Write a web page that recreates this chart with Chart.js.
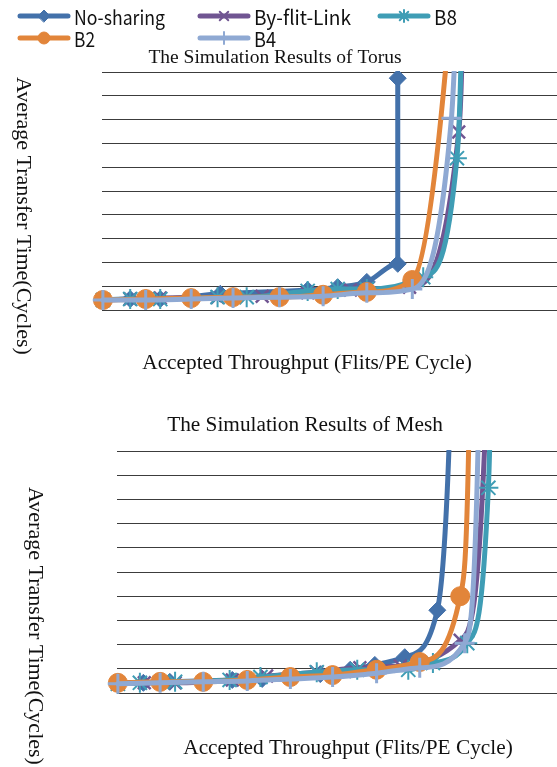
<!DOCTYPE html>
<html>
<head>
<meta charset="utf-8">
<script src="https://cdn.jsdelivr.net/npm/chart.js"></script>
<style>
  body { margin: 0; background: #fff; }
  canvas { display: block; }
</style>
</head>
<body>
<canvas id="torusChart" width="557" height="380"></canvas>
<canvas id="meshChart" width="557" height="387"></canvas>
<script>
// series, in drawing order (the last one ends up on top)
const seriesNames = ["No-sharing", "By-flit-Link", "B8", "B2", "B4"];
const seriesColors = ["#4371AA", "#705592", "#3F9DB5", "#E2853A", "#8FA9D3"];
const pointStyles = ["rectRot", "crossRot", "star", "circle", "cross"];
const pointRadii = [8.5, 9, 10, 9.5, 10];
const pointBorders = [1, 2.5, 2, 1, 3];

// y grid: average transfer time (cycles), x: accepted throughput
const yTicks = [0, 50, 100, 150, 200, 250, 300, 350, 400, 450, 500];
const xRange = [0, 0.5];

// --- Torus ---
const torusNoSharingX = [0.001, 0.031, 0.064, 0.130, 0.226, 0.259, 0.291, 0.325, 0.325];
const torusNoSharingY = [21, 23, 23, 34, 42, 48, 59, 97, 487];
const torusFlitLinkX = [0.001, 0.031, 0.064, 0.127, 0.176, 0.226, 0.273, 0.338, 0.392, 0.396, 0.401];
const torusFlitLinkY = [21, 23, 25, 27, 29, 36, 42, 48, 374, 567, 1281];
const torusB8X = [0.001, 0.031, 0.064, 0.127, 0.159, 0.226, 0.259, 0.291, 0.353, 0.390, 0.395, 0.400];
const torusB8Y = [21, 23, 23, 27, 27, 40, 44, 44, 69, 319, 567, 1281];
const torusB2X = [0.001, 0.048, 0.098, 0.144, 0.195, 0.243, 0.291, 0.341, 0.379, 0.390];
const torusB2Y = [21, 23, 25, 27, 27, 32, 38, 63, 536, 872];
const torusB4X = [0.001, 0.048, 0.098, 0.144, 0.195, 0.243, 0.291, 0.341, 0.384, 0.388, 0.396];
const torusB4Y = [21, 21, 23, 25, 27, 29, 36, 44, 403, 546, 966];

// --- Mesh ---
const meshNoSharingX = [0.001, 0.030, 0.060, 0.131, 0.165, 0.231, 0.265, 0.293, 0.327, 0.364, 0.378, 0.384];
const meshNoSharingY = [21, 21, 23, 27, 29, 39, 48, 58, 74, 171, 543, 1019];
const meshFlitLinkX = [0.001, 0.031, 0.066, 0.131, 0.170, 0.227, 0.276, 0.322, 0.390, 0.419, 0.423];
const meshFlitLinkY = [19, 21, 21, 27, 35, 43, 52, 56, 109, 564, 1019];
const meshB8X = [0.001, 0.026, 0.066, 0.128, 0.163, 0.227, 0.273, 0.331, 0.359, 0.398, 0.422, 0.425, 0.428];
const meshB8Y = [19, 21, 23, 27, 33, 43, 48, 48, 62, 103, 424, 647, 1122];
const meshB2X = [0.001, 0.049, 0.098, 0.148, 0.197, 0.245, 0.295, 0.344, 0.390, 0.400, 0.403];
const meshB2Y = [21, 23, 23, 27, 33, 37, 48, 64, 200, 543, 1019];
const meshB4X = [0.001, 0.049, 0.098, 0.148, 0.197, 0.245, 0.295, 0.344, 0.395, 0.411, 0.415];
const meshB4Y = [19, 21, 23, 25, 29, 33, 41, 52, 103, 564, 1122];

const serifFont = '"Liberation Serif", "Times New Roman", serif';
const gridColor = "#3c3c3c";

function pts(xs, ys) {
  return xs.map((x, i) => ({ x: x, y: ys[i] }));
}

function buildDatasets(xs, ys) {
  return seriesNames.map((name, i) => ({
    label: name,
    data: pts(xs[i], ys[i]),
    showLine: true,
    borderColor: seriesColors[i],
    backgroundColor: seriesColors[i],
    borderWidth: 5,
    borderCapStyle: "round",
    borderJoinStyle: "round",
    cubicInterpolationMode: "monotone",
    pointStyle: pointStyles[i],
    pointRadius: pointRadii[i],
    pointHoverRadius: pointRadii[i],
    pointBorderWidth: pointBorders[i],
    order: seriesNames.length - i,
    clip: { left: 14, top: 1, right: 0, bottom: 14 }
  }));
}

// titles drawn straight on the canvas; the y title reads top-to-bottom
function textPlugin(cfg) {
  return {
    id: "chartTexts",
    afterDraw(chart) {
      const ctx = chart.ctx;
      ctx.save();
      ctx.fillStyle = "#111";
      ctx.textAlign = "center";
      ctx.textBaseline = "middle";

      ctx.font = cfg.titleSize + "px " + serifFont;
      ctx.fillText(cfg.title, cfg.titlePos[0], cfg.titlePos[1]);

      ctx.font = cfg.xSize + "px " + serifFont;
      ctx.fillText(cfg.xTitle, cfg.xTitlePos[0], cfg.xTitlePos[1]);

      ctx.font = cfg.ySize + "px " + serifFont;
      ctx.translate(cfg.yTitlePos[0], cfg.yTitlePos[1]);
      ctx.rotate(Math.PI / 2);
      ctx.fillText(cfg.yTitle, 0, 0);
      ctx.restore();
    }
  };
}

// legend: thick line with the series marker in the middle, two rows
const legendSlots = [[18, 16], [198, 16], [378, 16], [18, 38], [198, 38]];
const legendTextWidths = [91, 97, 23, 21, 22];
const legendPlugin = {
  id: "seriesLegend",
  afterDraw(chart) {
    const ctx = chart.ctx;
    ctx.save();
    seriesNames.forEach((name, i) => {
      const [x0, y] = legendSlots[i];
      ctx.strokeStyle = seriesColors[i];
      ctx.fillStyle = seriesColors[i];
      ctx.lineWidth = 5;
      ctx.lineCap = "round";
      ctx.beginPath();
      ctx.moveTo(x0 + 2, y);
      ctx.lineTo(x0 + 50, y);
      ctx.stroke();

      ctx.lineWidth = pointStyles[i] === "circle" || pointStyles[i] === "rectRot" ? 1 : 2;
      Chart.helpers.drawPoint(ctx, {
        pointStyle: pointStyles[i],
        radius: 6,
        rotation: 0,
        borderWidth: ctx.lineWidth
      }, x0 + 26, y);

      ctx.fillStyle = "#111";
      ctx.font = '20px "Noto Sans CJK JP", "Noto Sans", sans-serif';
      ctx.textBaseline = "middle";
      ctx.textAlign = "left";
      ctx.fillText(name, x0 + 56, y + 1, legendTextWidths[i]);
    });
    ctx.restore();
  }
};

function baseOptions(padding) {
  return {
    responsive: false,
    animation: false,
    devicePixelRatio: 1,
    layout: { padding: padding, autoPadding: false },
    plugins: {
      legend: { display: false },
      tooltip: { enabled: false },
      title: { display: false }
    },
    scales: {
      x: { type: "linear", min: xRange[0], max: xRange[1], display: false },
      y: {
        min: yTicks[0],
        max: yTicks[yTicks.length - 1],
        afterBuildTicks: (scale) => { scale.ticks = yTicks.map(v => ({ value: v })); },
        ticks: { display: false },
        grid: { color: gridColor, lineWidth: 1, drawTicks: false },
        border: { display: false }
      }
    }
  };
}

const torusChart = new Chart(document.getElementById("torusChart"), {
  type: "scatter",
  data: {
    datasets: buildDatasets(
      [torusNoSharingX, torusFlitLinkX, torusB8X, torusB2X, torusB4X],
      [torusNoSharingY, torusFlitLinkY, torusB8Y, torusB2Y, torusB4Y]
    )
  },
  options: baseOptions({ left: 102, right: 0, top: 72, bottom: 70 }),
  plugins: [
    legendPlugin,
    textPlugin({
      title: "The Simulation Results of Torus", titleSize: 19.5, titlePos: [275, 58],
      xTitle: "Accepted Throughput (Flits/PE Cycle)", xSize: 21.3, xTitlePos: [307, 363],
      yTitle: "Average Transfer Time(Cycles)", ySize: 22, yTitlePos: [23, 216]
    })
  ]
});

const meshChart = new Chart(document.getElementById("meshChart"), {
  type: "scatter",
  data: {
    datasets: buildDatasets(
      [meshNoSharingX, meshFlitLinkX, meshB8X, meshB2X, meshB4X],
      [meshNoSharingY, meshFlitLinkY, meshB8Y, meshB2Y, meshB4Y]
    )
  },
  options: baseOptions({ left: 117, right: 0, top: 71, bottom: 74 }),
  plugins: [
    textPlugin({
      title: "The Simulation Results of Mesh", titleSize: 21.3, titlePos: [305, 45],
      xTitle: "Accepted Throughput (Flits/PE Cycle)", xSize: 21.3, xTitlePos: [348, 368],
      yTitle: "Average Transfer Time(Cycles)", ySize: 22, yTitlePos: [35, 246]
    })
  ]
});
</script>
</body>
</html>
